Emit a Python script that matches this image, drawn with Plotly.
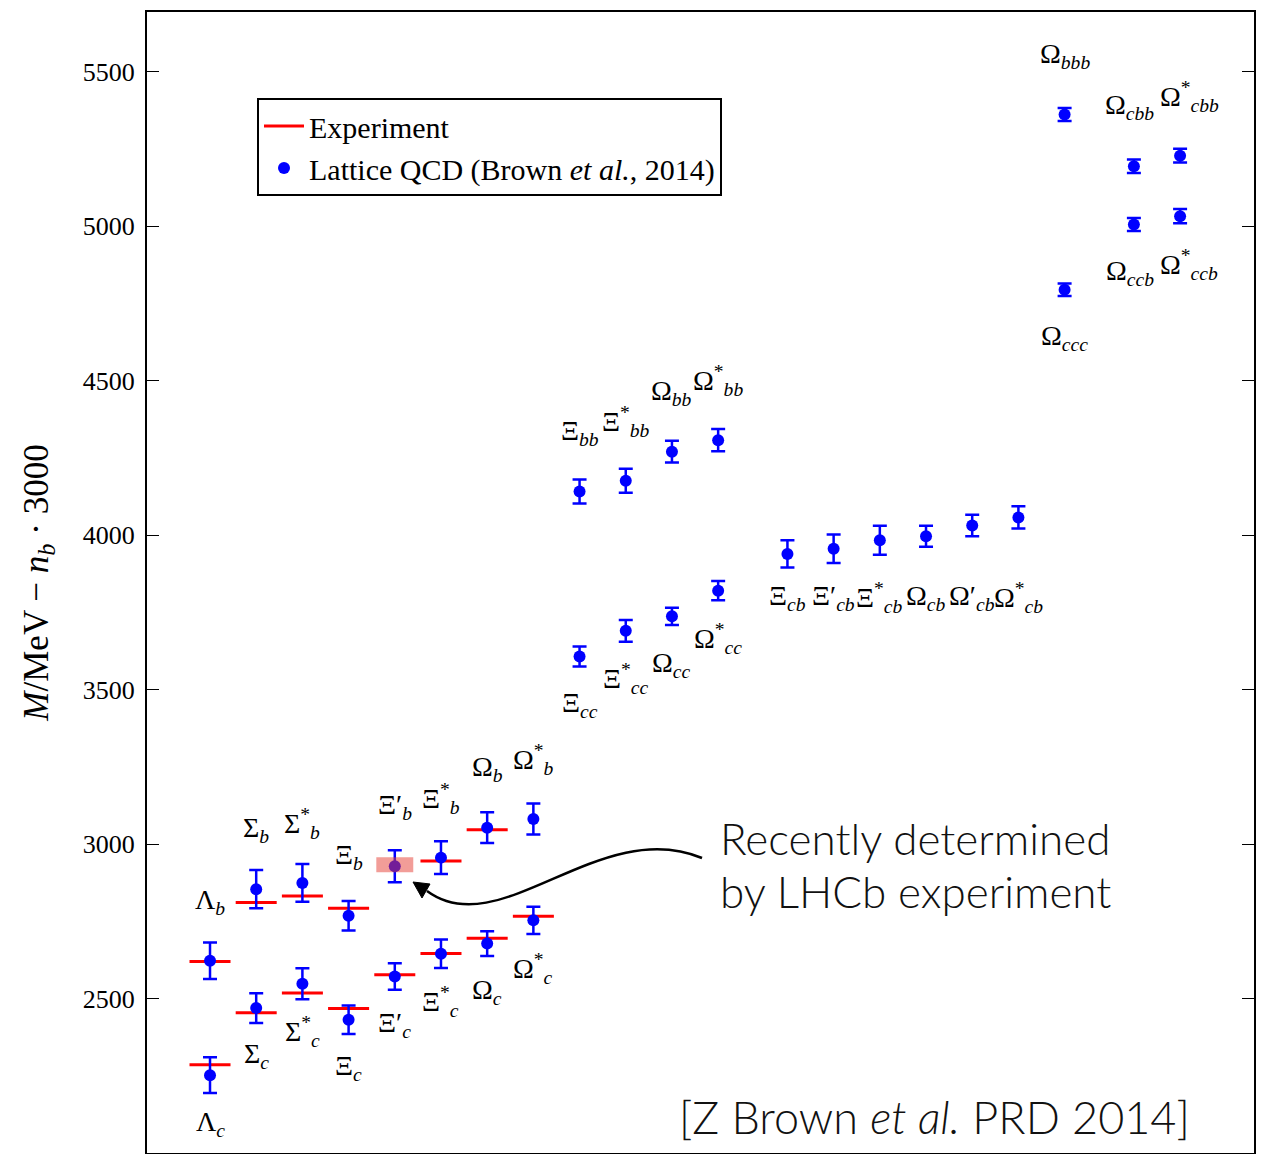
import plotly.graph_objects as go

# ---------------- data (MeV, M - n_b*3000) ----------------
label_base = ["Λ", "Σ", "Σ", "Ξ", "Ξ", "Ξ", "Ω", "Ω",
              "Λ", "Σ", "Σ", "Ξ", "Ξ", "Ξ", "Ω", "Ω",
              "Ξ", "Ξ", "Ω", "Ω",
              "Ξ", "Ξ", "Ω", "Ω",
              "Ξ", "Ξ", "Ξ", "Ω", "Ω", "Ω",
              "Ω", "Ω", "Ω",
              "Ω", "Ω", "Ω"]
label_sup = ["", "", "*", "", "′", "*", "", "*",
             "", "", "*", "", "′", "*", "", "*",
             "", "*", "", "*",
             "", "*", "", "*",
             "", "′", "*", "", "′", "*",
             "", "", "*",
             "", "", "*"]
label_sub = ["c", "c", "c", "c", "c", "c", "c", "c",
             "b", "b", "b", "b", "b", "b", "b", "b",
             "cc", "cc", "cc", "cc",
             "bb", "bb", "bb", "bb",
             "cb", "cb", "cb", "cb", "cb", "cb",
             "ccc", "ccb", "ccb",
             "bbb", "cbb", "cbb"]
x_pos = [0, 1, 2, 3, 4, 5, 6, 7,
         0, 1, 2, 3, 4, 5, 6, 7,
         8, 9, 10, 11,
         8, 9, 10, 11,
         12.5, 13.5, 14.5, 15.5, 16.5, 17.5,
         18.5, 20, 21,
         18.5, 20, 21]
lattice = [2252, 2469, 2548, 2431, 2571, 2645, 2678, 2753,
           2622, 2854, 2874, 2768, 2928, 2956, 3053, 3081,
           3607, 3690, 3737, 3820,
           4141, 4176, 4270, 4307,
           3939, 3956, 3983, 3996, 4031, 4057,
           4794, 5005, 5032,
           5361, 5194, 5228]
lattice_err = [58, 48, 50, 46, 43, 46, 40, 44,
               59, 62, 61, 48, 52, 53, 50, 50,
               32, 35, 28, 31,
               39, 39, 35, 36,
               44, 46, 47, 34, 35, 36,
               20, 21, 23,
               21, 22, 22]
experiment = [2286, 2454, 2518, 2468, 2577, 2646, 2695, 2766,
              2620, 2811, 2832, 2792, None, 2945, 3046, None,
              None, None, None, None,
              None, None, None, None,
              None, None, None, None, None, None,
              None, None, None,
              None, None, None]
label_side = ["below"] * 8 + ["above"] * 8 + ["below"] * 4 + ["above"] * 4 + \
             ["below_group"] * 6 + ["below"] * 3 + ["above"] * 3
lhcb_x = 4
lhcb_value = 2933

# ---------------- layout constants ----------------
# page has an 8px body margin; plot area in page pixels: x 147..1254, y 12..1153
OFF = 8
W, H = 1266 - 2 * OFF, 1162 - 2 * OFF
PX0, PX1, PY0, PY1 = 147, 1254, 12, 1153
ML, MT = PX0 - OFF, PY0 - OFF
MR, MB = (OFF + W) - PX1, (OFF + H) - PY1
X_RANGE = [-1.364, 22.6]
Y_RANGE = [2000, 5693]


def px2paper(px, py):
    return (px - PX0) / (PX1 - PX0), (PY1 - py) / (PY1 - PY0)


SERIF = "Liberation Serif, Times New Roman, serif"
SANS = "Lato, Open Sans, sans-serif"
LFS = 28  # label font size
# small horizontal nudges (px) for the crowded triply-heavy pairs
NUDGE = {"Ω_ccb": -4, "Ω*_ccb": 9, "Ω_cbb": -4, "Ω*_cbb": 9}

fig = go.Figure()

# experiment: short red horizontal segments
ex, ey = [], []
half = 0.444
for xv, ev in zip(x_pos, experiment):
    if ev is None:
        continue
    ex += [xv - half, xv + half, None]
    ey += [ev, ev, None]
fig.add_trace(go.Scatter(
    x=ex, y=ey, mode="lines", name="Experiment",
    line=dict(color="#ff0000", width=3), hoverinfo="skip"))

# lattice QCD points with error bars
hover = [b + s + "_" + u for b, s, u in zip(label_base, label_sup, label_sub)]
fig.add_trace(go.Scatter(
    x=x_pos, y=lattice, mode="markers",
    name="Lattice QCD (Brown <i>et al.</i>, 2014)",
    marker=dict(color="#0000ff", size=12, line=dict(width=0)),
    error_y=dict(type="data", array=lattice_err, color="#0000ff", thickness=2.5, width=7),
    text=hover, hovertemplate="%{text}: %{y}<extra></extra>"))

# particle labels
annotations = []
group_min = min(v for v, s in zip(lattice, label_side) if s == "below_group")
for b, sp, sb, xv, v, side, key in zip(label_base, label_sup, label_sub, x_pos, lattice,
                                       label_side, hover):
    if side == "above":
        ly = v + 192
    elif side == "below":
        ly = v - 155
    else:
        ly = group_min - 142
    if sp == "*":
        txt = b + "<sup>*</sup><sub><i>" + sb + "</i></sub>"
    else:
        txt = b + sp + "<sub><i>" + sb + "</i></sub>"
    annotations.append(dict(x=xv, y=ly, xref="x", yref="y", text=txt, showarrow=False,
                            font=dict(family=SERIF, size=LFS, color="black"),
                            xanchor="center", yanchor="middle",
                            xshift=NUDGE.get(key, 0)))

# text annotations
for line_text, yy in (("Recently determined", 838), ("by LHCb experiment", 891)):
    tx, ty = px2paper(915, yy)
    annotations.append(dict(x=tx, y=ty, xref="paper", yref="paper",
                            text=line_text, showarrow=False,
                            font=dict(family=SANS, size=44, color="#111111", weight=300),
                            xanchor="center", yanchor="middle"))
bx, by = px2paper(1192, 1117)
annotations.append(dict(x=bx, y=by, xref="paper", yref="paper",
                        text="[Z Brown <i>et al.</i> PRD 2014]", showarrow=False,
                        font=dict(family=SANS, size=45, color="#111111", weight=300),
                        xanchor="right", yanchor="middle"))

# LHCb highlight box
shapes = [dict(type="rect", xref="x", yref="y", x0=lhcb_x - 0.4, x1=lhcb_x + 0.4,
               y0=lhcb_value - 24, y1=lhcb_value + 24, layer="above",
               fillcolor="rgba(230,60,50,0.5)", line=dict(width=0))]

# curved arrow (page-pixel geometry -> paper coords)
P0, P1, P2, P3 = (702, 858), (600, 815), (500, 945), (427, 891)
pts = [px2paper(*p) for p in (P0, P1, P2, P3)]
path = "M {:.5f},{:.5f} C {:.5f},{:.5f} {:.5f},{:.5f} {:.5f},{:.5f}".format(
    pts[0][0], pts[0][1], pts[1][0], pts[1][1], pts[2][0], pts[2][1], pts[3][0], pts[3][1])
shapes.append(dict(type="path", xref="paper", yref="paper", path=path,
                   line=dict(color="black", width=2.5), layer="above"))
head = [px2paper(413, 882), px2paper(430, 884), px2paper(422, 898)]
hpath = "M {:.5f},{:.5f} L {:.5f},{:.5f} L {:.5f},{:.5f} Z".format(
    head[0][0], head[0][1], head[1][0], head[1][1], head[2][0], head[2][1])
shapes.append(dict(type="path", xref="paper", yref="paper", path=hpath,
                   fillcolor="black", line=dict(color="black", width=1), layer="above"))

lx, ly = px2paper(257, 98)
fig.update_layout(
    width=W, height=H,
    margin=dict(l=ML, r=MR, t=MT, b=MB, pad=0),
    paper_bgcolor="white", plot_bgcolor="white",
    showlegend=True,
    legend=dict(x=lx, y=ly, xanchor="left", yanchor="top",
                bgcolor="white", bordercolor="black", borderwidth=2,
                font=dict(family=SERIF, size=30, color="black"),
                itemwidth=40, tracegroupgap=0),
    xaxis=dict(range=X_RANGE, showticklabels=False, ticks="", showgrid=False, zeroline=False,
               showline=True, linecolor="black", linewidth=2, mirror=True),
    yaxis=dict(range=Y_RANGE, tickvals=[2000, 2500, 3000, 3500, 4000, 4500, 5000, 5500],
               ticks="inside", ticklen=12, tickwidth=1, tickcolor="black",
               ticklabelstandoff=5,
               showgrid=False, zeroline=False,
               showline=True, linecolor="black", linewidth=2, mirror="ticks",
               tickfont=dict(family=SERIF, size=26, color="black"),
               title=dict(text="<i>M</i>/MeV − <i>n</i><sub><i>b</i></sub> · 3000",
                          font=dict(family=SERIF, size=35, color="black"), standoff=24)),
    annotations=annotations,
    shapes=shapes,
)

fig.write_html("out.html")
